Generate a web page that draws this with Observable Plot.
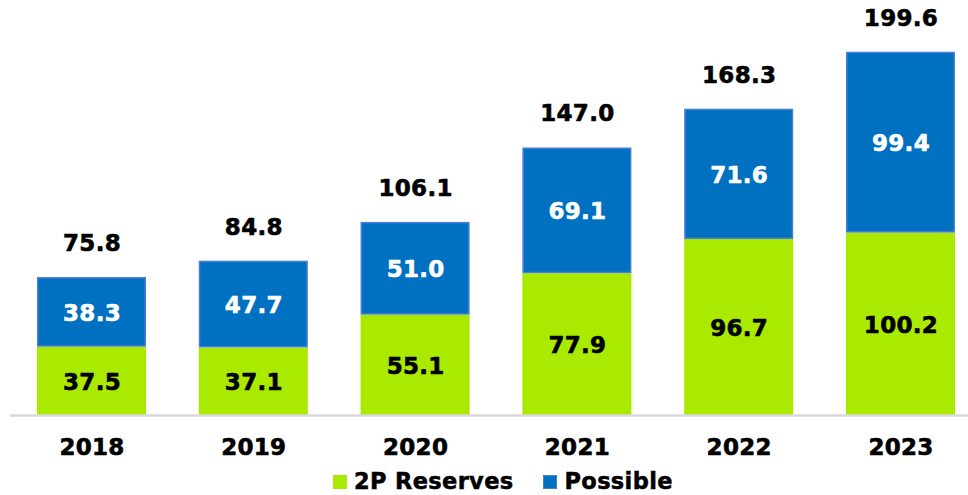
<!DOCTYPE html>
<html>
<head>
<meta charset="utf-8">
<script src="https://cdn.jsdelivr.net/npm/d3@7"></script>
<script src="https://cdn.jsdelivr.net/npm/@observablehq/plot@0.6"></script>
<style>
  html, body { margin: 0; padding: 0; background: #fff; }
  body { width: 968px; height: 495px; overflow: hidden; position: relative; font-family: "DejaVu Sans", Verdana, sans-serif; }
  #chart svg text { letter-spacing: 0.3px; }
  #legend { position: absolute; left: 333px; top: 471px; height: 20px; line-height: 20px; display: flex; align-items: center; gap: 30px; font-weight: bold; font-size: 22.5px; letter-spacing: 0.35px; color: #000; -webkit-text-stroke: 0.5px #000; }
  .item { display: flex; align-items: center; gap: 7px; height: 20px; }
  .sw { width: 14px; height: 14px; display: inline-block; box-sizing: border-box; margin-top: 2px; }
</style>
</head>
<body>
<div id="chart"></div>
<div id="legend"></div>
<script>
const years = ["2018", "2019", "2020", "2021", "2022", "2023"];
const reserves2P = [37.5, 37.1, 55.1, 77.9, 96.7, 100.2];
const possible = [38.3, 47.7, 51.0, 69.1, 71.6, 99.4];
const totals = [75.8, 84.8, 106.1, 147.0, 168.3, 199.6];
const seriesNames = ["2P Reserves", "Possible"];
const colors = ["#aaea00", "#0070c0"];
const strokes = ["#aaea00", "#4a7fd6"];

const rows = [];
years.forEach((y, i) => {
  rows.push({year: y, series: seriesNames[0], value: reserves2P[i], y1: 0, y2: reserves2P[i]});
  rows.push({year: y, series: seriesNames[1], value: possible[i], y1: reserves2P[i], y2: reserves2P[i] + possible[i]});
});
const totalRows = years.map((y, i) => ({year: y, total: totals[i], top: reserves2P[i] + possible[i]}));

const font = "DejaVu Sans, Verdana, sans-serif";
const txt = {fontSize: 23, fontWeight: "bold", strokeWidth: 0.6};

const chart = Plot.plot({
  width: 968,
  height: 463,
  marginLeft: 10,
  marginRight: 0,
  marginTop: 51,
  marginBottom: 48,
  style: {fontFamily: font, background: "#fff", overflow: "visible"},
  x: {domain: years, paddingInner: 0.326, paddingOuter: 0.1235, align: 0.675, round: false, axis: null},
  y: {domain: [0, 200], axis: null},
  marks: [
    Plot.rectY(rows.filter(d => d.series === seriesNames[0]), {x: "year", y1: "y1", y2: "y2", fill: colors[0]}),
    Plot.rectY(rows.filter(d => d.series === seriesNames[1]), {x: "year", y1: "y1", y2: "y2", fill: colors[1], stroke: strokes[1], strokeWidth: 1.5, inset: 0.75}),
    Plot.ruleY([0], {stroke: "#d9d9d9", strokeWidth: 2.5}),
    Plot.text(rows, {x: "year", y: d => (d.y1 + d.y2) / 2, text: d => d.value.toFixed(1), fill: d => d.series === seriesNames[0] ? "#000" : "#fff", stroke: d => d.series === seriesNames[0] ? "#000" : "#fff", ...txt, dy: 1}),
    Plot.text(totalRows, {x: "year", y: "top", text: d => d.total.toFixed(1), fill: "#000", stroke: "#000", ...txt, dy: -34}),
    Plot.text(years, {x: d => d, y: 0, text: d => d, fill: "#000", stroke: "#000", ...txt, dy: 32})
  ]
});
document.getElementById("chart").appendChild(chart);

const legend = document.getElementById("legend");
seriesNames.forEach((name, i) => {
  const item = document.createElement("div");
  item.className = "item";
  const sw = document.createElement("span");
  sw.className = "sw";
  sw.style.background = colors[i];
  sw.style.border = "1px solid " + strokes[i];
  item.appendChild(sw);
  const t = document.createElement("span");
  t.textContent = name;
  item.appendChild(t);
  legend.appendChild(item);
});
</script>
</body>
</html>
